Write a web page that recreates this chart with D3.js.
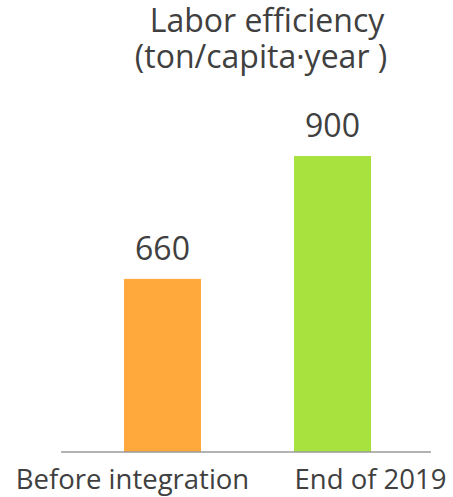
<!DOCTYPE html>
<html>
<head>
<meta charset="utf-8">
<script src="https://cdn.jsdelivr.net/npm/d3@7"></script>
<style>
  html, body { margin: 0; padding: 0; background: #fff; }
  svg { display: block; }
  text { font-family: "Open Sans", "Noto Sans", sans-serif; fill: #404040; }
</style>
</head>
<body>
<svg id="chart" width="453" height="497"></svg>
<script>
// Data
const categories = ["Before integration", "End of 2019"];
const values = [660, 900];
const titleLines = ["Labor efficiency", "(ton/capita·year )"];
const colors = ["#FFA83C", "#A8E23F"];

// Layout
const W = 453, H = 497;
const baseY = 452, topY = 156;
const axisX0 = 61, axisX1 = 431;
const barW = 77;
const labelShift = [-30, 38];   // category label offsets from bar centre

const svg = d3.select("#chart");

const x = d3.scalePoint()
  .domain(categories)
  .range([162.5, 332.5]);

const y = d3.scaleLinear()
  .domain([322, 900])
  .range([baseY, topY]);

// Bars
svg.selectAll("rect.bar")
  .data(values)
  .join("rect")
  .attr("class", "bar")
  .attr("x", (d, i) => x(categories[i]) - barW / 2)
  .attr("y", d => y(d))
  .attr("width", barW)
  .attr("height", d => baseY - y(d))
  .attr("fill", (d, i) => colors[i]);

// Baseline
svg.append("line")
  .attr("x1", axisX0).attr("x2", axisX1)
  .attr("y1", baseY).attr("y2", baseY)
  .attr("stroke", "#9a9a9a")
  .attr("stroke-width", 1.5);

// Value labels
svg.selectAll("text.value")
  .data(values)
  .join("text")
  .attr("class", "value")
  .attr("x", (d, i) => x(categories[i]))
  .attr("y", d => y(d) - 19)
  .attr("text-anchor", "middle")
  .style("font-size", "32px")
  .text(d => d);

// Category labels
svg.selectAll("text.cat")
  .data(categories)
  .join("text")
  .attr("class", "cat")
  .attr("x", (d, i) => x(d) + labelShift[i])
  .attr("y", 489)
  .attr("text-anchor", "middle")
  .style("font-size", "27.5px")
  .text(d => d);

// Title
svg.selectAll("text.title")
  .data(titleLines)
  .join("text")
  .attr("class", "title")
  .attr("x", (d, i) => i === 0 ? 267 : 261)
  .attr("y", (d, i) => 32 + i * 36)
  .attr("text-anchor", "middle")
  .style("font-size", "32px")
  .text(d => d);
</script>
</body>
</html>
